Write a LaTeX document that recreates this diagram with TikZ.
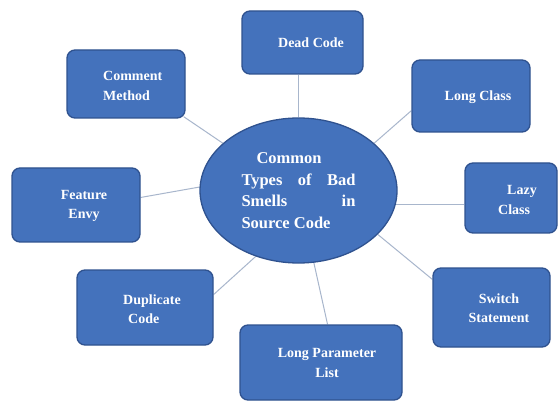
\documentclass[tikz,border=0pt]{standalone}
\usepackage{fontspec}
\setmainfont{Liberation Serif}
\usetikzlibrary{shapes.geometric,calc,backgrounds}
\definecolor{boxfill}{RGB}{68,114,188}
\definecolor{boxedge}{RGB}{47,82,143}
\definecolor{linkc}{RGB}{168,182,204}
\begin{document}
\begin{tikzpicture}[x=1pt,y=-1pt,
  box/.style={draw=boxedge,fill=boxfill,line width=1.3pt,rounded corners=8pt,inner sep=0pt},
  lbl/.style={text=white,font=\bfseries\fontsize{14}{19.5}\selectfont,inner sep=0pt},
  hub/.style={ellipse,draw=boxedge,fill=boxfill,line width=1.3pt,inner sep=0pt,
    minimum width=197pt,minimum height=145pt,text=white,
    font=\bfseries\fontsize{16.5}{21.5}\selectfont,align=left},
  link/.style={draw=linkc,line width=1pt}]
\useasboundingbox (0,0) rectangle (559,403);

% hub
\node[hub] (e) at (298.5,190.5) {%
  \makebox[114pt][l]{\hspace*{15pt}Common}\\
  \makebox[114pt][s]{Types of Bad}\\
  \makebox[114pt][s]{Smells in}\\
  \makebox[114pt][l]{Source Code}};

% boxes
\node[box,minimum width=118pt,minimum height=68pt] (cm) at (126,84) {};
\node[box,minimum width=121pt,minimum height=63pt] (dc) at (302.5,42.5) {};
\node[box,minimum width=118pt,minimum height=72pt] (lc) at (471,96) {};
\node[box,minimum width=92pt,minimum height=70pt] (lz) at (511,198) {};
\node[box,minimum width=128pt,minimum height=74pt] (fe) at (76,205) {};
\node[box,minimum width=136pt,minimum height=75pt] (dup) at (145,307.5) {};
\node[box,minimum width=162pt,minimum height=75pt] (lp) at (321,362.5) {};
\node[box,minimum width=117pt,minimum height=79pt] (sw) at (491.5,307.5) {};

% labels
\node[lbl,anchor=west,align=left] (cmt) at (103,86) {Comment\\Method};
\node[lbl] (dct) at (311,43) {Dead Code};
\node[lbl] (lct) at (478,97) {Long Class};
\node[lbl,anchor=west,align=left] (lzt) at (498,200) {\hspace*{9pt}Lazy\\Class};
\node[lbl,align=center] (fet) at (84,206) {Feature\\Envy};
\node[lbl,anchor=west,align=left] (dupt) at (123,309) {Duplicate\\\hspace*{5pt}Code};
\node[lbl,align=center] (lpt) at (327,363) {Long Parameter\\List};
\node[lbl,align=center] (swt) at (499,308) {Switch\\Statement};

% connectors
\begin{pgfonlayer}{background}
\fill[white] (0,0) rectangle (559,403);
\draw[link] (e.north) -- (e.north |- dc.south);
\draw[link] (e.32) -- ($(lc.south west)!0.3!(lc.north west)$);
\draw[link] (e.-8) -- (e.-8 -| lz.west);
\draw[link] (e.-29) -- ($(sw.north west)!0.15!(sw.south west)$);
\draw[link] (e.-78) -- ($(lp.north west)!0.54!(lp.north east)$);
\draw[link] (e.237) -- ($(dup.north east)!0.33!(dup.south east)$);
\draw[link] (e.178) -- ($(fe.north east)!0.4!(fe.south east)$);
\draw[link] (e.148) -- ($(cm.south east)+(-2,-2)$);
\end{pgfonlayer}
\end{tikzpicture}
\end{document}
